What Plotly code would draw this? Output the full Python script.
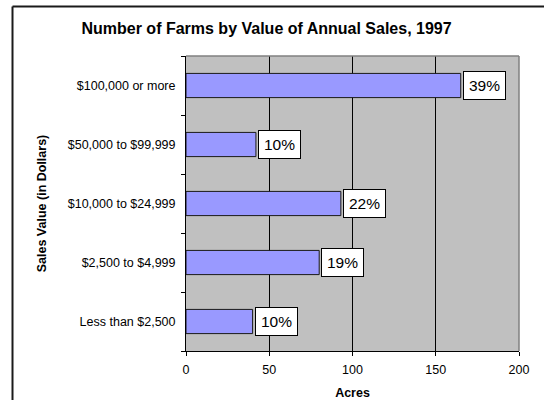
import plotly.graph_objects as go

# Sales classes, listed top to bottom as they appear on the chart
categories = [
    "$100,000 or more",
    "$50,000 to $99,999",
    "$10,000 to $24,999",
    "$2,500 to $4,999",
    "Less than $2,500",
]
acres = [165, 42, 93, 80, 40]
share_pct = [39, 10, 22, 19, 10]

FONT = "Arial, Liberation Sans, sans-serif"

fig = go.Figure()
fig.add_trace(go.Bar(
    y=categories,
    x=acres,
    orientation="h",
    width=0.41,
    marker=dict(color="#9999FF", line=dict(color="#1a1a1a", width=1)),
    hoverinfo="skip",
))

# Percentage call-outs in white boxes just past each bar end
for cat, val, pct in zip(categories, acres, share_pct):
    fig.add_annotation(
        x=val, y=cat, xref="x", yref="y",
        text=f"{pct}%", showarrow=False,
        xanchor="left", yanchor="middle", xshift=2,
        font=dict(family=FONT, size=15.5, color="black"),
        bgcolor="white", bordercolor="black", borderwidth=1, borderpad=5,
    )

# Gray frame on the top and right of the plot area
fig.add_shape(type="line", xref="paper", yref="paper", x0=0, x1=1, y0=1, y1=1,
              line=dict(color="#808080", width=1.5), layer="above")
fig.add_shape(type="line", xref="paper", yref="paper", x0=1, x1=1, y0=0, y1=1,
              line=dict(color="#808080", width=1.5), layer="above")

# Outer chart border (left and top edges; it runs past the page on the right and bottom)
fig.add_shape(type="line", xref="paper", yref="paper",
              x0=-0.521, x1=-0.521, y0=-0.25, y1=1.168,
              line=dict(color="#1a1a1a", width=2), layer="below")
fig.add_shape(type="line", xref="paper", yref="paper",
              x0=-0.521, x1=1.3, y0=1.168, y1=1.168,
              line=dict(color="#1a1a1a", width=2), layer="below")

fig.update_layout(
    width=544, height=400,
    margin=dict(l=186, r=25, t=56, b=49),
    paper_bgcolor="white",
    plot_bgcolor="#C0C0C0",
    showlegend=False,
    font=dict(family=FONT, size=12.5, color="black"),
    title=dict(
        text="<b>Number of Farms by Value of Annual Sales, 1997</b>",
        font=dict(family=FONT, size=16, color="black"),
        x=0.49, xanchor="center", y=0.93, yanchor="middle",
    ),
    xaxis=dict(
        range=[0, 200], tickvals=[0, 50, 100, 150, 200],
        showgrid=True, gridcolor="black", gridwidth=1,
        showline=True, linecolor="black", linewidth=1,
        ticks="outside", ticklen=4, tickcolor="black",
        zeroline=False, automargin=False,
        tickfont=dict(family=FONT, size=12.5),
        ticklabelstandoff=3,
        title=dict(text="<b>Acres</b>", font=dict(family=FONT, size=12.5), standoff=14),
    ),
    yaxis=dict(
        categoryorder="array", categoryarray=categories[::-1],
        tickson="boundaries",
        showline=True, linecolor="black", linewidth=1,
        ticks="outside", ticklen=4, tickcolor="black",
        showgrid=False, automargin=False,
        tickfont=dict(family=FONT, size=12.5),
        ticklabelstandoff=7,
        title=dict(text="<b>Sales Value (in Dollars)</b>", font=dict(family=FONT, size=12.5), standoff=18),
    ),
)

fig.write_html("out.html", config={"displayModeBar": False})
